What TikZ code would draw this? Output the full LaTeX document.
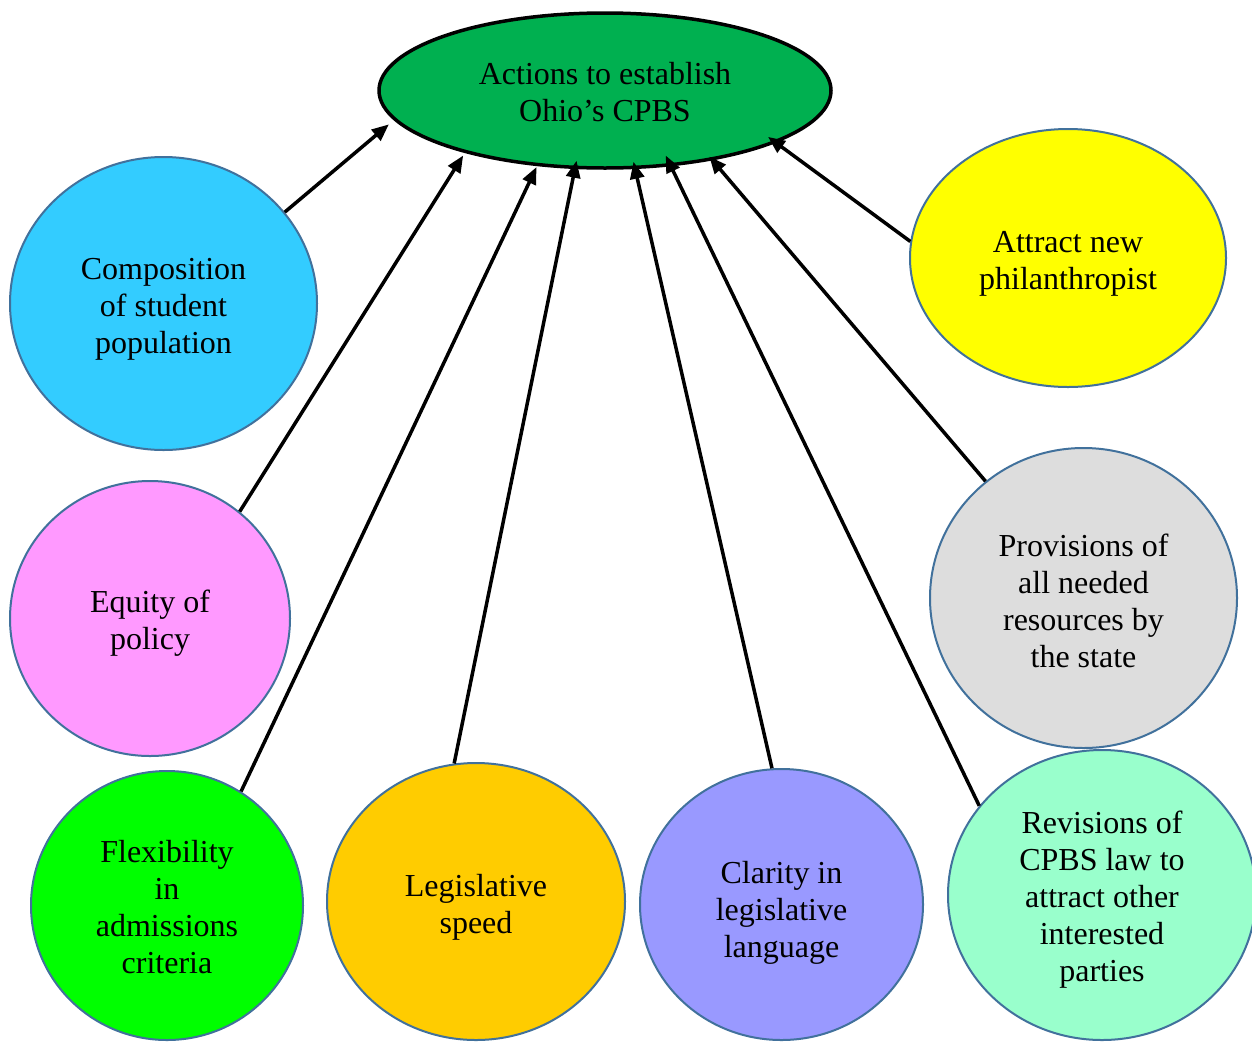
\documentclass[tikz,border=0pt]{standalone}
\usepackage{fontspec}
\setmainfont{Liberation Serif}
\usetikzlibrary{shapes.geometric,arrows.meta}
\definecolor{cbord}{RGB}{65,113,156}
\definecolor{ctop}{HTML}{00B050}
\definecolor{ccomp}{HTML}{33CCFF}
\definecolor{cequ}{HTML}{FF99FF}
\definecolor{cflex}{HTML}{00FF00}
\definecolor{cleg}{HTML}{FFCC00}
\definecolor{cclar}{HTML}{9999FF}
\definecolor{crev}{HTML}{99FFCC}
\definecolor{cprov}{HTML}{DDDDDD}
\definecolor{cattr}{HTML}{FFFF00}
\newcommand\lowtext[2]{\raisebox{-#1}[\height][\depth]{\begin{tabular}{@{}c@{}}#2\end{tabular}}}
\tikzset{
  bubble/.style={ellipse, draw=cbord, line width=2pt, inner sep=0pt,
    font=\fontsize{32}{37}\selectfont},
  topbubble/.style={ellipse, draw=black, line width=3.5pt, inner sep=0pt,
    fill=ctop, font=\fontsize{32}{37}\selectfont},
  conn/.style={line width=3.5pt, -{Triangle[length=17pt,width=14pt]}}
}
\begin{document}
\begin{tikzpicture}[x=1pt,y=-1pt]
\useasboundingbox[fill=white] (0,0) rectangle (1252,1042);
\node[topbubble, minimum width=452pt, minimum height=155pt] (top) at (605,90.5) {\lowtext{5pt}{Actions to establish\\Ohio’s CPBS}};
\node[bubble, fill=ccomp, minimum width=307pt, minimum height=293pt] (comp) at (163.5,303.5) {\lowtext{6pt}{Composition\\of student\\population}};
\node[bubble, fill=cequ, minimum width=280pt, minimum height=275pt] (equ) at (150,618.5) {\lowtext{5pt}{Equity of\\policy}};
\node[bubble, fill=cflex, minimum width=272pt, minimum height=269pt] (flex) at (167,905.5) {\lowtext{5.5pt}{Flexibility\\in\\admissions\\criteria}};
\node[bubble, fill=cleg, minimum width=298pt, minimum height=277pt] (leg) at (476,901.5) {\lowtext{6pt}{Legislative\\speed}};
\node[bubble, fill=cclar, minimum width=283pt, minimum height=271pt] (clar) at (781.5,904.5) {\lowtext{9pt}{Clarity in\\legislative\\language}};
\node[bubble, fill=cprov, minimum width=307pt, minimum height=300pt] (prov) at (1083.5,598) {\lowtext{7pt}{Provisions of\\all needed\\resources by\\the state}};
\node[bubble, fill=crev, minimum width=308pt, minimum height=290pt] (rev) at (1102,895) {\lowtext{5pt}{Revisions of\\CPBS law to\\attract other\\interested\\parties}};
\node[bubble, fill=cattr, minimum width=316pt, minimum height=258pt] (attr) at (1068,258) {\lowtext{6pt}{Attract new\\philanthropist}};
\draw[conn, shorten >=6.5pt] (comp.37.4) -- (top.188.6);
\draw[conn, shorten >=3pt] (equ.50.9) -- (top.204.1);
\draw[conn, shorten >=1pt] (flex.57.7) -- (top.228.8);
\draw[conn, shorten >=-8.5pt] (leg.99.9) -- (top.249.8);
\draw[conn, shorten >=-7.5pt] (clar.94.0) -- (top.291.4);
\draw[conn, shorten >=-12pt] (rev.144.0) -- (top.311.1);
\draw[conn, shorten >=-5pt] (prov.130.7) -- (top.327.4);
\draw[conn, shorten >=-10pt] (attr.174.4) -- (top.343.9);
\end{tikzpicture}
\end{document}
